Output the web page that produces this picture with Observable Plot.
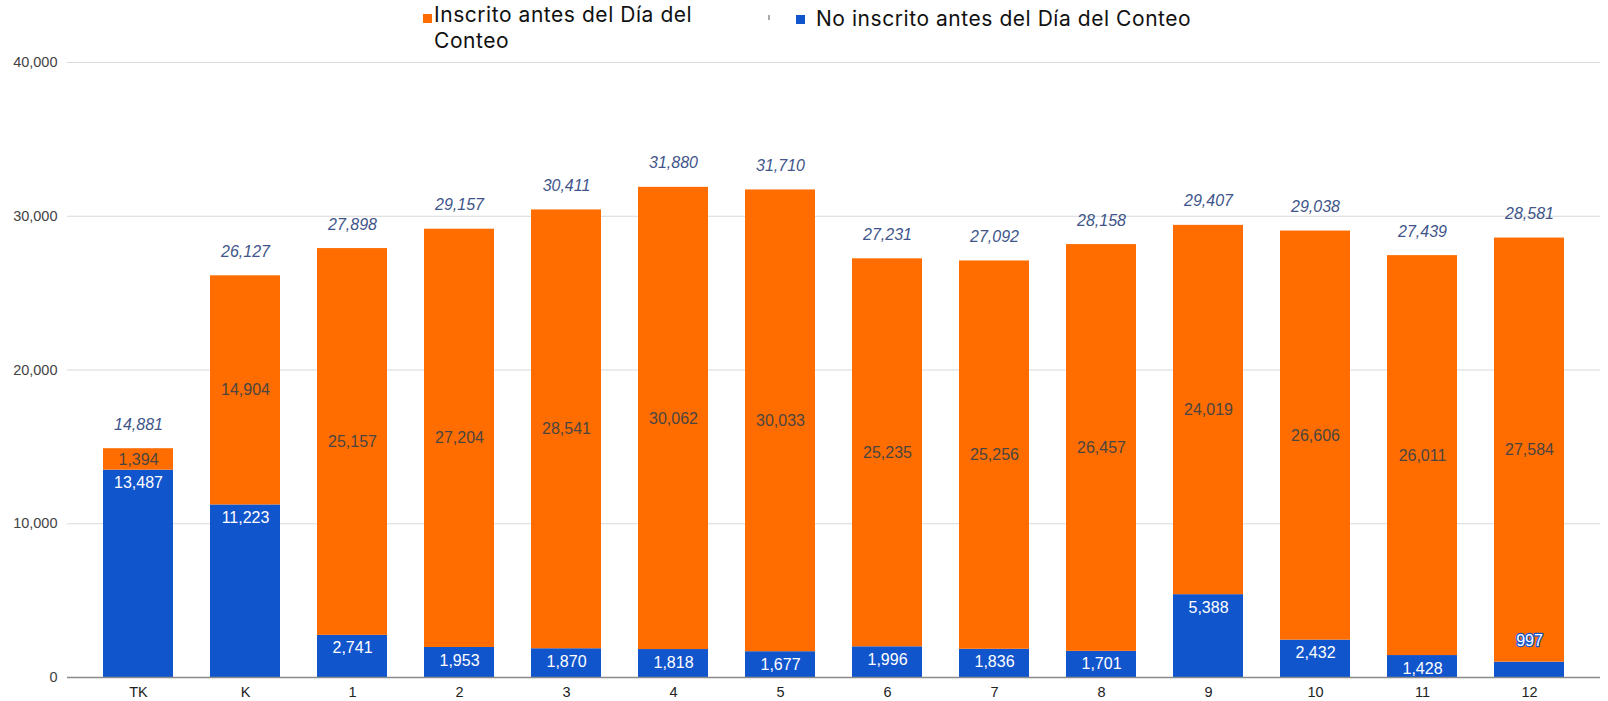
<!DOCTYPE html>
<html>
<head>
<meta charset="utf-8">
<script src="https://cdn.jsdelivr.net/npm/d3@7"></script>
<script src="https://cdn.jsdelivr.net/npm/@observablehq/plot@0.6"></script>
<style>
  html, body { margin: 0; padding: 0; background: #fff; }
  #wrap { width: 1608px; height: 701px; position: relative; overflow: hidden; }
  #legend { position: relative; height: 50px; font-family: Inter, "Open Sans", sans-serif; font-size: 21px; letter-spacing: 0.55px; color: #111; }
  .sw { position: absolute; width: 9px; height: 9px; }
  .lt { position: absolute; line-height: 26px; white-space: nowrap; }
  svg { display: block; }
</style>
</head>
<body>
<div id="wrap">
  <div id="legend"></div>
  <div id="chart"></div>
</div>
<script>
const grades = ["TK", "K", "1", "2", "3", "4", "5", "6", "7", "8", "9", "10", "11", "12"];
const inscrito = [1394, 14904, 25157, 27204, 28541, 30062, 30033, 25235, 25256, 26457, 24019, 26606, 26011, 27584];
const noInscrito = [13487, 11223, 2741, 1953, 1870, 1818, 1677, 1996, 1836, 1701, 5388, 2432, 1428, 997];
const totals = [14881, 26127, 27898, 29157, 30411, 31880, 31710, 27231, 27092, 28158, 29407, 29038, 27439, 28581];
const seriesNames = ["Inscrito antes del Día del Conteo", "No inscrito antes del Día del Conteo"];
const seriesColors = ["#ff6d01", "#1155cc"];
const yTicks = [0, 10000, 20000, 30000, 40000];

const fmt = d3.format(",");

// legend
const legend = document.getElementById("legend");
legend.innerHTML = `
  <div class="sw" style="left:423px;top:14px;background:${seriesColors[0]}"></div>
  <div class="lt" style="left:434px;top:2px;">Inscrito antes del Día del<br>Conteo</div>
  <div style="position:absolute;left:768px;top:15px;width:1.5px;height:5px;background:#aaa"></div>
  <div class="sw" style="left:796px;top:15px;background:${seriesColors[1]}"></div>
  <div class="lt" style="left:816px;top:6px;">${seriesNames[1]}</div>
`;

const long = [];
grades.forEach((g, i) => {
  long.push({grade: g, series: seriesNames[1], value: noInscrito[i]});
  long.push({grade: g, series: seriesNames[0], value: inscrito[i]});
});
const rows = grades.map((g, i) => ({grade: g, blue: noInscrito[i], orange: inscrito[i], total: totals[i]}));

const chart = Plot.plot({
  width: 1608,
  height: 651,
  marginTop: 12,
  marginBottom: 24,
  marginLeft: 67,
  marginRight: 8,
  style: {fontFamily: "Arial, 'Liberation Sans', sans-serif", background: "#fff"},
  x: {domain: grades, paddingInner: 0.346, paddingOuter: 0.33, label: null},
  y: {domain: [0, 40000], label: null},
  color: {domain: seriesNames, range: seriesColors},
  marks: [
    Plot.gridY(yTicks, {stroke: "#d9d9d9", strokeOpacity: 1}),
    Plot.axisY(yTicks, {tickSize: 0, tickPadding: 10, tickFormat: fmt, fontSize: 14.5, fill: "#444"}),
    Plot.barY(long, Plot.stackY({x: "grade", y: "value", fill: "series", order: seriesNames.slice().reverse()})),
    Plot.ruleY([0], {stroke: "#8a8a8a", strokeWidth: 1.5}),
    Plot.axisX({tickSize: 0, tickPadding: 9, fontSize: 14.5, fill: "#222"}),
    Plot.text(rows, {x: "grade", y: d => d.blue + d.orange / 2, text: d => fmt(d.orange), fill: "#4a4540", fontSize: 16}),
    Plot.text(rows.filter(d => d.blue >= 1400), {x: "grade", y: "blue", text: d => fmt(d.blue), fill: "#fff", fontSize: 16, dy: 13}),
    Plot.text(rows.filter(d => d.blue < 1400), {x: "grade", y: "blue", text: d => fmt(d.blue), fill: "#fff", stroke: "#1155cc", strokeWidth: 2.5, paintOrder: "stroke", fontSize: 16, dy: -21}),
    Plot.text(rows, {x: "grade", y: "total", text: d => fmt(d.total), fill: "#41558a", fontStyle: "italic", fontSize: 16, dy: -24})
  ]
});
document.getElementById("chart").appendChild(chart);
</script>
</body>
</html>
